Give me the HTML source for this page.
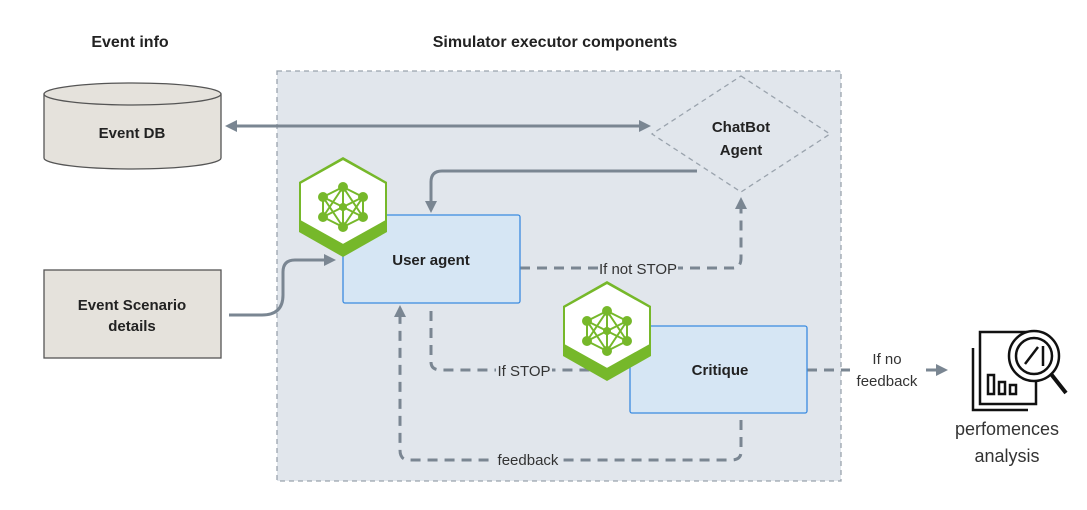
<!DOCTYPE html>
<html><head><meta charset="utf-8"><style>
body{margin:0;background:#fff;}
text{font-family:"Liberation Sans",sans-serif;}
</style></head><body>
<svg width="1087" height="505" viewBox="0 0 1087 505" xmlns="http://www.w3.org/2000/svg">
<defs>
<marker id="ah" markerWidth="12" markerHeight="12" refX="9" refY="6" orient="auto" markerUnits="userSpaceOnUse"><path d="M0,0 L12,6 L0,12 z" fill="#7a8692"/></marker>
<marker id="as" markerWidth="12" markerHeight="12" refX="3" refY="6" orient="auto" markerUnits="userSpaceOnUse"><path d="M12,0 L0,6 L12,12 z" fill="#7a8692"/></marker>
<g id="hex">
<polygon points="0,-50 44,-25 44,25 0,50 -44,25 -44,-25" fill="#76b82a"/>
<polygon points="0,-48 43,-24 43,14 0,38 -43,14 -43,-24" fill="#fff" stroke="#76b82a" stroke-width="2"/>
<g stroke="#76b82a" stroke-width="2" fill="#76b82a">
<line x1="0" y1="-20" x2="-20" y2="-10"/><line x1="0" y1="-20" x2="20" y2="-10"/><line x1="-20" y1="-10" x2="-20" y2="10"/><line x1="20" y1="-10" x2="20" y2="10"/><line x1="-20" y1="10" x2="0" y2="20"/><line x1="20" y1="10" x2="0" y2="20"/><line x1="0" y1="-20" x2="0" y2="20"/><line x1="-20" y1="-10" x2="20" y2="10"/><line x1="20" y1="-10" x2="-20" y2="10"/><line x1="-20" y1="-10" x2="0" y2="20"/><line x1="20" y1="-10" x2="0" y2="20"/><line x1="0" y1="-20" x2="-20" y2="10"/><line x1="0" y1="-20" x2="20" y2="10"/>
<circle cx="0" cy="-20" r="4"/><circle cx="-20" cy="-10" r="4"/><circle cx="20" cy="-10" r="4"/><circle cx="-20" cy="10" r="4"/><circle cx="20" cy="10" r="4"/><circle cx="0" cy="20" r="4"/><circle cx="0" cy="0" r="3"/>
</g></g>
</defs>
<text x="130" y="47" font-size="16" font-weight="bold" fill="#222" text-anchor="middle">Event info</text>
<text x="555" y="47" font-size="16" font-weight="bold" fill="#222" text-anchor="middle">Simulator executor components</text>
<rect x="277" y="71" width="564" height="410" fill="#e1e6ec" stroke="#9aa3ad" stroke-dasharray="5,4" stroke-width="1.3"/>
<path d="M44,94 L44,158 A88.5,11 0 0 0 221,158 L221,94" fill="#e5e2dc" stroke="#555" stroke-width="1.3"/>
<ellipse cx="132.5" cy="94" rx="88.5" ry="11" fill="#e5e2dc" stroke="#555" stroke-width="1.3"/>
<text x="132" y="138" font-size="15" font-weight="bold" fill="#222" text-anchor="middle">Event  DB</text>
<rect x="44" y="270" width="177" height="88" fill="#e5e2dc" stroke="#555" stroke-width="1.3"/>
<text x="132" y="310" font-size="15" font-weight="bold" fill="#222" text-anchor="middle">Event Scenario</text>
<text x="132" y="331" font-size="15" font-weight="bold" fill="#222" text-anchor="middle">details</text>
<polygon points="741,76 830,134 741,192 652,134" fill="#e1e6ec" stroke="#9aa3ad" stroke-dasharray="5,4" stroke-width="1.3"/>
<text x="741" y="132" font-size="15" font-weight="bold" fill="#222" text-anchor="middle">ChatBot</text>
<text x="741" y="155" font-size="15" font-weight="bold" fill="#222" text-anchor="middle">Agent</text>
<g fill="none" stroke="#7a8692" stroke-width="3">
<line x1="228" y1="126" x2="648" y2="126" marker-start="url(#as)" marker-end="url(#ah)"/>
<path d="M697,171 L442,171 Q431,171 431,182 L431,210" marker-end="url(#ah)"/>
<path d="M229,315 L262,315 Q283,315 283,295 L283,272 Q283,260 295,260 L333,260" marker-end="url(#ah)"/>
<g stroke-dasharray="10,7">
<path d="M520,268 L733,268 Q741,268 741,258 L741,200" marker-end="url(#ah)"/>
<path d="M431,311 L431,362 Q431,370 441,370 L628,370"/>
<path d="M741,420 L741,452 Q741,460 731,460 L409,460 Q400,460 400,450 L400,308" marker-end="url(#ah)"/>
<path d="M807,370 L945,370" marker-end="url(#ah)"/>
</g></g>
<rect x="598" y="258" width="80" height="20" fill="#e1e6ec"/>
<text x="638" y="274" font-size="15" fill="#333" text-anchor="middle">If not STOP</text>
<rect x="496" y="360" width="56" height="20" fill="#e1e6ec"/>
<text x="524" y="376" font-size="15" fill="#333" text-anchor="middle">If STOP</text>
<rect x="495" y="450" width="68" height="20" fill="#e1e6ec"/>
<text x="528" y="465" font-size="15" fill="#333" text-anchor="middle">feedback</text>
<rect x="850" y="348" width="72" height="42" fill="#fff"/>
<text x="887" y="364" font-size="15" fill="#333" text-anchor="middle">If no</text>
<text x="887" y="386" font-size="15" fill="#333" text-anchor="middle">feedback</text>
<rect x="343" y="215" width="177" height="88" rx="2" fill="#d6e6f4" stroke="#3b8be0" stroke-width="1.3"/>
<text x="431" y="265" font-size="15" font-weight="bold" fill="#222" text-anchor="middle">User agent</text>
<rect x="630" y="326" width="177" height="87" rx="2" fill="#d6e6f4" stroke="#3b8be0" stroke-width="1.3"/>
<text x="720" y="375" font-size="15" font-weight="bold" fill="#222" text-anchor="middle">Critique</text>
<use href="#hex" x="343" y="207"/>
<use href="#hex" x="607" y="331"/>
<g fill="none" stroke="#111" stroke-width="2.5">
<path d="M973,348 L973,410 L1028,410"/>
<rect x="980" y="332" width="56" height="72"/>
<circle cx="1034" cy="356" r="25" fill="#fff"/>
<circle cx="1034" cy="356" r="18"/>
<line x1="1051" y1="374" x2="1066" y2="393" stroke-width="4"/>
<line x1="1025" y1="364" x2="1038" y2="347"/>
<line x1="1043" y1="346" x2="1043" y2="366"/>
<rect x="988" y="375" width="6" height="19"/><rect x="999" y="382" width="6" height="12"/><rect x="1010" y="385" width="6" height="9"/>
</g>
<text x="1007" y="435" font-size="18" fill="#333" text-anchor="middle">perfomences</text>
<text x="1007" y="462" font-size="18" fill="#333" text-anchor="middle">analysis</text>
</svg>
</body></html>
